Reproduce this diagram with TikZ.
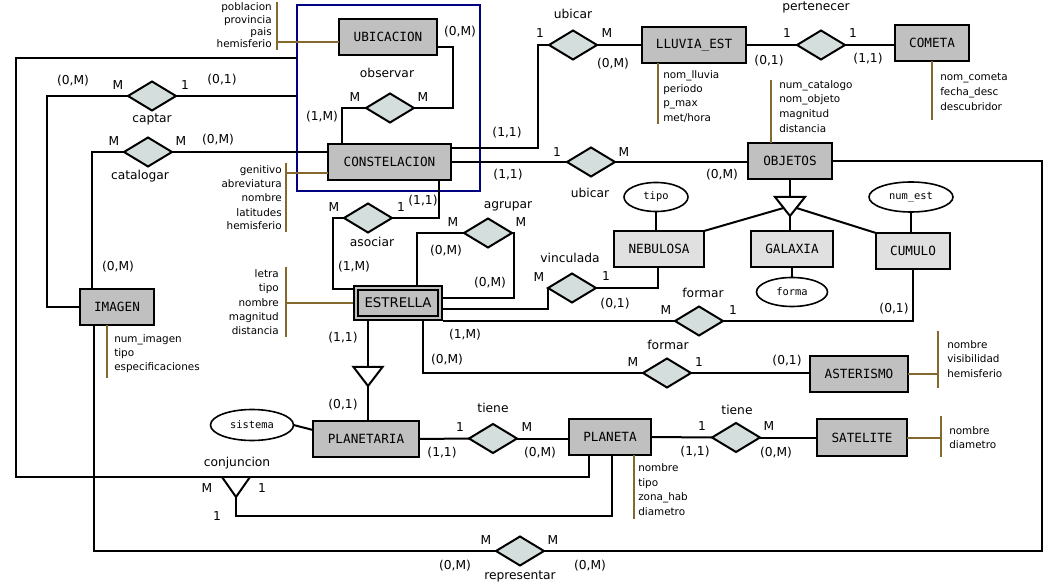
\documentclass[tikz,border=0pt]{standalone}
\usepackage{fontspec}
\setmainfont{DejaVu Sans}
\newfontfamily\entfont{DejaVu Sans Mono}
\usetikzlibrary{shapes.geometric,calc}
\definecolor{entgray}{RGB}{192,192,192}
\definecolor{entlight}{RGB}{224,224,224}
\definecolor{relfill}{RGB}{212,222,220}
\definecolor{attrbrown}{RGB}{133,104,45}
\definecolor{aggblue}{RGB}{0,0,128}
% attribute list: anchor, x, name prefix, {y/text,...}
\newcommand\attrlines[4]{\foreach \aty/\att [count=\ai] in {#4} {\node[atxt,anchor=#1] (#3-\ai) at (#2,\aty) {\att};}}
\begin{document}
\begin{tikzpicture}[x=0.75pt,y=-0.75pt,
  sz/.style args={#1/#2}{minimum width=#1*0.75pt,minimum height=#2*0.75pt},
  ent/.style={draw=black,fill=entgray,line width=1.6pt,inner sep=0pt,outer sep=0pt,font=\entfont\fontsize{9.5}{11}\selectfont},
  subent/.style={ent,fill=entlight},
  rel/.style={diamond,draw=black,fill=relfill,line width=1.5pt,inner sep=0pt,outer sep=0pt,minimum width=36pt,minimum height=21.75pt},
  attr/.style={ellipse,draw=black,fill=white,line width=1.2pt,inner sep=0pt,outer sep=0pt,font=\entfont\fontsize{7.8}{9}\selectfont},
  link/.style={draw=black,line width=1.5pt},
  attrline/.style={draw=attrbrown,line width=1.5pt},
  lbl/.style={inner sep=0pt,text height=0.75em,text depth=0.2em,font=\fontsize{9.2}{10}\selectfont},
  atxt/.style={inner sep=0pt,text height=0.75em,text depth=0.2em,font=\fontsize{7.8}{10}\selectfont},
]
\fill[white] (0,0) rectangle (1060,584);
\useasboundingbox (0,0) rectangle (1060,584);

% aggregation frame around UBICACION - observar - CONSTELACION
\node[draw=aggblue,line width=1.5pt,sz=183/186,inner sep=0pt,outer sep=0pt] (obsbox) at (388.5,98) {};

% entities
\node[ent,sz=98/36] (ubic) at (388,37) {UBICACION};
\node[ent,sz=123/36] (const) at (389.5,162) {CONSTELACION};
\node[ent,sz=104/36] (lluvia) at (694,45) {LLUVIA\_EST};
\node[ent,sz=74/36] (cometa) at (932,43) {COMETA};
\node[ent,sz=84/36] (objetos) at (790,161) {OBJETOS};
\node[subent,sz=90/36] (nebulosa) at (659,249) {NEBULOSA};
\node[subent,sz=82/36] (galaxia) at (792,249) {GALAXIA};
\node[subent,sz=74/36] (cumulo) at (913,251) {CUMULO};
\node[ent,font=\fontsize{10}{12}\selectfont,line width=1.5pt,sz=84/30,double=entgray,double distance=1.5pt,outer sep=2.25pt] (estrella) at (398,303) {ESTRELLA};
\node[ent,sz=74/36] (imagen) at (117,307) {IMAGEN};
\node[ent,sz=98/36] (asterismo) at (859,374) {ASTERISMO};
\node[ent,sz=106/36] (planetaria) at (366,439) {PLANETARIA};
\node[ent,sz=82/36] (planeta) at (610,437) {PLANETA};
\node[ent,sz=90/37] (satelite) at (862,437.5) {SATELITE};

% relationships
\node[rel] (captar) at (152,96) {};
\node[rel] (catalogar) at (148,152) {};
\node[rel] (observar) at (390,108) {};
\node[rel] (ubicar1) at (573,45) {};
\node[rel] (ubicar2) at (591,162) {};
\node[rel] (pertenecer) at (821,45) {};
\node[rel] (asociar) at (368,218) {};
\node[rel] (agrupar) at (488,233) {};
\node[rel] (vinculada) at (572,288) {};
\node[rel] (formar1) at (699,321) {};
\node[rel] (formar2) at (667,373) {};
\node[rel] (tiene1) at (493,438.5) {};
\node[rel] (tiene2) at (736,437.5) {};
\node[rel] (representar) at (520,551) {};

% single-valued attributes in ellipses
\node[attr,sz=64/29] (tipo) at (656,197) {tipo};
\node[attr,sz=71/29] (forma) at (792,292) {forma};
\node[attr,sz=84/30] (numest) at (911,197) {num\_est};
\node[attr,sz=83/31] (sistema) at (252,425) {sistema};

% specialisation triangles
\coordinate (isa1top) at (790,197);
\coordinate (isa1apex) at (790,216);
\coordinate (isa1a) at (783.5,208);
\coordinate (isa1b) at (796.5,208);
\coordinate (isa2top) at (368,367);
\coordinate (isa2apex) at (368,386);
\draw[link] (objetos.south) -- (isa1top);
\draw[link,fill=white] ($(isa1top)+(-15,0)$) -- ($(isa1top)+(15,0)$) -- (isa1apex) -- cycle;
\draw[link] (isa1a) -- (nebulosa.north east);
\draw[link] (isa1b) -- (cumulo.north west);
\draw[link] (isa1apex) -- (isa1apex |- galaxia.north);
\draw[link] (estrella.south -| isa2top) -- (isa2top);
\draw[link,fill=white] ($(isa2top)+(-14.5,0)$) -- ($(isa2top)+(14.5,0)$) -- (isa2apex) -- cycle;
\draw[link] (isa2apex) -- (isa2apex |- planetaria.north);

% ellipse links
\draw[link] (tipo.south) -- (tipo.south |- nebulosa.north);
\draw[link] (numest.south) -- (numest.south |- cumulo.north);
\draw[link] (galaxia.south) -- (galaxia.south |- forma.north);
\draw[link] (sistema.east) -- ($(planetaria.north west)+(0,9)$);

% captar / catalogar
\draw[link] (captar.west) -| (47,307) -- (imagen.west);
\draw[link] (captar.east) -- (captar.east -| obsbox.west);
\draw[link] (catalogar.east) -- (catalogar.east -| const.west);
\draw[link] (catalogar.west) -| ($(imagen.north)+(-25,0)$);

% conjuncion
\coordinate (cjfoot) at (236,497);
\draw[link] (obsbox.west |- 0,58) -- (16,58) -- (16,477) -| ($(planeta.south west)+(20,0)$);
\draw[link] (222,477) -- (cjfoot) -- (250,477);
\draw[link] (cjfoot) -- (236,516) -| ($(planeta.south east)+(-39,0)$);

% observar
\draw[link] (observar.west) -| ($(const.north west)+(14,0)$);
\draw[link] (observar.east) -| (453,47) -- (ubic.east |- 453,47);

% ubicar
\draw[link] (const.east |- 0,148) -| (538,45) -- (ubicar1.west);
\draw[link] (ubicar1.east) -- (lluvia.west);
\draw[link] (const.east) -- (ubicar2.west);
\draw[link] (ubicar2.east) -- (ubicar2.east -| objetos.west);

% pertenecer
\draw[link] (lluvia.east) -- (pertenecer.west);
\draw[link] (pertenecer.east) -- (pertenecer.east -| cometa.west);

% representar
\draw[link] (objetos.east) -| (1042,551) -- (representar.east);
\draw[link] (representar.west) -| ($(imagen.south)+(-23,0)$);

% relationships around ESTRELLA
\draw[link] (const.south -| 439,0) |- (asociar.east);
\draw[link] (asociar.west) -| (333,289) -- (estrella.west |- 0,289);
\draw[link] (estrella.north -| 417,0) |- (agrupar.west);
\draw[link] (agrupar.east) -| (514,298) -- (estrella.east |- 0,298);
\draw[link] (estrella.east |- 0,309) -| (vinculada.west);
\draw[link] (vinculada.east) -| (nebulosa.south -| 658,0);
\draw[link] (cumulo.south) |- (formar1.east);
\draw[link] (formar1.west) -- (formar1.west -| estrella.east);
\draw[link] (estrella.south -| 423,0) |- (formar2.west);
\draw[link] (formar2.east) -- (formar2.east -| asterismo.west);

% tiene
\draw[link] (planetaria.east) -- (tiene1.west);
\draw[link] (tiene1.east) -- (tiene1.east -| planeta.west);
\draw[link] (planeta.east) -- (tiene2.west);
\draw[link] (tiene2.east) -- (tiene2.east -| satelite.west);

% attribute brackets
\draw[attrline] (277,2) -- (277,50);
\draw[attrline] (277,42) -- (ubic.west |- 0,42);
\draw[attrline] (286,163) -- (286,232);
\draw[attrline] (286,173) -- (const.west |- 0,173);
\draw[attrline] (lluvia.south -| 658,0) -- (658,124);
\draw[attrline] (objetos.north -| 771,0) -- (771,80);
\draw[attrline] (cometa.south -| 932,0) -- (932,120);
\draw[attrline] (286,267) -- (286,337);
\draw[attrline] (286,303) -- (estrella.west);
\draw[attrline] (imagen.south -| 107,0) -- (107,378);
\draw[attrline] (asterismo.east) -- (938,374);
\draw[attrline] (938,331) -- (938,388);
\draw[attrline] (planeta.south -| 634,0) -- (634,519);
\draw[attrline] (satelite.east) -- (941,437.5);
\draw[attrline] (941,416) -- (941,457);

% attribute names
\attrlines{east}{272}{ubicattr}{7/poblacion,20/provincia,32/pais,44/hemisferio}
\attrlines{east}{282}{constattr}{170/genitivo,184/abreviatura,198/nombre,213/latitudes,226/hemisferio}
\attrlines{east}{279}{estattr}{274/letra,288/tipo,303/nombre,317/magnitud,331/distancia}
\attrlines{west}{663}{lluattr}{75/nom\_lluvia,89/periodo,103/p\_max,118/{met/hora}}
\attrlines{west}{779}{objattr}{85/num\_catalogo,99/nom\_objeto,114/magnitud,129/distancia}
\attrlines{west}{940}{comattr}{77/nom\_cometa,92/fecha\_desc,107/descubridor}
\attrlines{west}{114}{imgattr}{339/num\_imagen,353/tipo,367/especificaciones}
\attrlines{west}{947}{astattr}{345/nombre,359/visibilidad,374/hemisferio}
\attrlines{west}{638}{plaattr}{468/nombre,483/tipo,497/zona\_hab,512/diametro}
\attrlines{west}{949}{satattr}{431/nombre,445/diametro}

% relationship names and cardinalities
\foreach \lx/\ly/\lt [count=\li] in {
  460/32/{(0,M)}, 387/74/observar, 355/98/M, 423/98/M, 322/117/{(1,M)},
  573/15/ubicar, 540/34/1, 607/34/M, 613/64/{(0,M)}, 507/133/{(1,1)},
  557/153/1, 624/153/M, 508/175/{(1,1)}, 590/194/ubicar, 722/175/{(0,M)},
  816/7/pertenecer, 787/34/1, 853/34/1, 769/61/{(0,1)}, 868/59/{(1,1)},
  73/81/{(0,M)}, 118/86/M, 185/86/1, 222/80/{(0,1)}, 152/119/captar,
  114/142/M, 181/142/M, 218/140/{(0,M)}, 140/176/catalogar, 118/267/{(0,M)},
  334/208/M, 401/208/1, 423/201/{(1,1)}, 372/243/asociar, 354/267/{(1,M)},
  508/205/agrupar, 453/223/M, 521/223/M, 446/251/{(0,M)}, 490/283/{(0,M)},
  570/259/vinculada, 539/278/M, 606/277/1, 615/304/{(0,1)},
  703/294/formar, 666/311/M, 733/311/1, 894/309/{(0,1)}, 465/335/{(1,M)},
  668/346/formar, 633/363/M, 699/363/1, 787/361/{(0,1)}, 447/360/{(0,M)},
  343/338/{(1,1)}, 343/405/{(0,1)},
  493/409/tiene, 460/428/1, 527/428/M, 442/453/{(1,1)}, 540/453/{(0,M)},
  737/411/tiene, 702/427/1, 769/427/M, 695/452/{(1,1)}, 776/453/{(0,M)},
  237/463/conjuncion, 207/489/M, 262/489/1, 217/517/1,
  486/541/M, 553/541/M, 455/566/{(0,M)}, 590/566/{(0,M)}, 520/576/representar}
  {\node[lbl] (lab\li) at (\lx,\ly) {\lt};}

\end{tikzpicture}
\end{document}
